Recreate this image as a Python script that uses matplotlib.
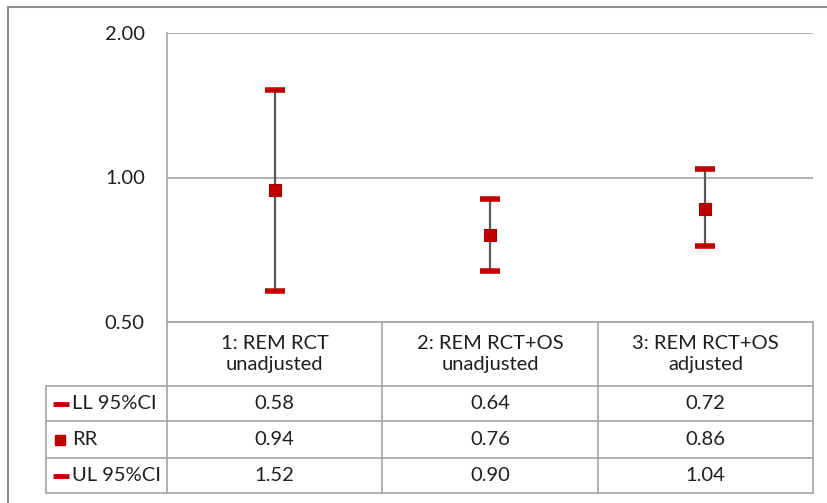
import numpy as np
import matplotlib
matplotlib.use("Agg")
import matplotlib.pyplot as plt
from matplotlib.lines import Line2D

# data
categories = ["1: REM RCT\nunadjusted", "2: REM RCT+OS\nunadjusted", "3: REM RCT+OS\nadjusted"]
ll = [0.58, 0.64, 0.72]
rr = [0.94, 0.76, 0.86]
ul = [1.52, 0.90, 1.04]
row_names = ["LL 95%CI", "RR", "UL 95%CI"]
ytick_vals = [0.5, 1.0, 2.0]

W, H = 828, 503
red = "#C00000"
grid_c = "#A6A6A6"
txt_c = "#1F1F1F"

plt.rcParams['font.family'] = ['Lato', 'DejaVu Sans']

fig = plt.figure(figsize=(W / 100, H / 100), dpi=100)

def fx(px):
    return px / W

def fy(py):
    return 1 - py / H

# outer frame (left and top edge visible)
fig.add_artist(Line2D([fx(8), fx(8)], [fy(503), fy(7)], color="#8C8C8C", lw=1.5))
fig.add_artist(Line2D([fx(8), fx(828)], [fy(7), fy(7)], color="#8C8C8C", lw=1.5))

# plot area
x0, x1, ytop, ybot = 167, 813, 33, 322
ax = fig.add_axes([fx(x0), fy(ybot), fx(x1) - fx(x0), fy(ytop) - fy(ybot)])
ax.set_yscale("log")
ax.set_ylim(0.5, 2.0)
ax.set_xlim(0, 3)
xs = np.arange(len(categories)) + 0.5
ax.set_yticks(ytick_vals)
ax.set_yticklabels(["%.2f" % v for v in ytick_vals])
ax.yaxis.set_minor_locator(matplotlib.ticker.NullLocator())
ax.set_xticks([])
ax.tick_params(axis="y", length=0, pad=16, labelsize=14.5, labelcolor=txt_c)
ax.grid(axis="y", color=grid_c, lw=1.2)
for s in ["top", "right", "bottom"]:
    ax.spines[s].set_visible(False)
ax.spines["left"].set_color(grid_c)
ax.spines["left"].set_linewidth(1.2)

rr_a = np.array(rr)
ax.errorbar(xs, rr_a, yerr=[rr_a - np.array(ll), np.array(ul) - rr_a], fmt="none",
            ecolor="#595959", elinewidth=1.6, capsize=0, zorder=3)
ax.plot(xs, ll, ls="none", marker="_", ms=14, mew=4, color=red, zorder=4, clip_on=False)
ax.plot(xs, ul, ls="none", marker="_", ms=14, mew=4, color=red, zorder=4, clip_on=False)
ax.plot(xs, rr, ls="none", marker="s", ms=9, mfc=red, mec="#A00000", mew=0.8, zorder=5, clip_on=False)

# data table
tx0, tx1, ty0, ty1 = 46, 813, 322, 493
tab = fig.add_axes([fx(tx0), fy(ty1), fx(tx1) - fx(tx0), fy(ty0) - fy(ty1)])
tab.set_xlim(tx0, tx1)
tab.set_ylim(ty1, ty0)
tab.axis("off")

col_edges = [167, 382, 598, 813]
row_edges = [386, 421, 458, 493]
lc = "#A6A6A6"
tab.plot([167, 813], [322, 322], color=lc, lw=1.2, clip_on=False)
for yy in row_edges:
    tab.plot([46, 813], [yy, yy], color=lc, lw=1.2, clip_on=False)
tab.plot([46, 46], [386, 493], color=lc, lw=1.2, clip_on=False)
for xx in col_edges:
    tab.plot([xx, xx], [322, 493], color=lc, lw=1.2, clip_on=False)

for i, name in enumerate(categories):
    cx = (col_edges[i] + col_edges[i + 1]) / 2
    tab.text(cx, 354, name, ha="center", va="center", fontsize=14.5, color=txt_c, linespacing=1.35)

rows = [ll, rr, ul]
markers = ["_", "s", "_"]
for r, (name, vals, mk) in enumerate(zip(row_names, rows, markers)):
    cy = (row_edges[r] + row_edges[r + 1]) / 2
    if mk == "s":
        tab.plot([60], [cy], ls="none", marker="s", ms=7.5, color=red, clip_on=False)
    else:
        tab.plot([61], [cy], ls="none", marker="_", ms=11, mew=3.5, color=red, clip_on=False)
    tab.text(72, cy, name, ha="left", va="center", fontsize=14.5, color=txt_c)
    for i, v in enumerate(vals):
        cx = (col_edges[i] + col_edges[i + 1]) / 2
        tab.text(cx, cy, "%.2f" % v, ha="center", va="center", fontsize=14.5, color=txt_c)

fig.savefig("out.png", dpi=100)
